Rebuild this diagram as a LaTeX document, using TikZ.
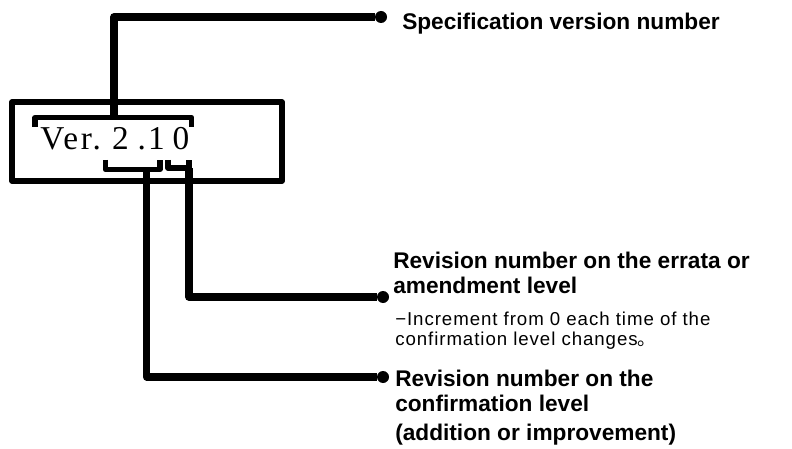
\documentclass[tikz,border=0pt]{standalone}
\usepackage{fontspec}
\setmainfont{Liberation Serif}
\newfontfamily\labelfont{Liberation Sans}
\newfontfamily\notefont[LetterSpace=5]{Liberation Sans}
\newfontfamily\verfont[LetterSpace=8]{Liberation Serif}
\newfontfamily\cjk{Noto Sans CJK JP}

\begin{document}
\begin{tikzpicture}[x=0.75pt,y=-0.75pt,
  wire/.style={line width=5.6pt,line join=round},
  brk/.style={line width=4pt,line join=round},
  dot/.style={circle,fill,inner sep=0pt,minimum size=9pt},
  head/.style={anchor=base west,inner sep=0pt,align=left,font=\labelfont\bfseries\fontsize{17}{18.75}\selectfont},
  note/.style={anchor=base west,inner sep=0pt,align=left,font=\notefont\fontsize{14}{15}\selectfont}]
  \useasboundingbox (0,0) rectangle (792,449);

  % version box
  \draw[line width=4.3pt,line join=round] (12,102) rectangle (282,181);
  \node[anchor=base west,inner sep=0pt,font=\verfont\fontsize{25}{25}\selectfont] (ver) at (40,150) {Ver.\hspace{8.25pt}2\hspace{6.75pt}.\hspace{1.5pt}1\hspace{6pt}0};

  % brackets
  \draw[brk] (35,127) |- (191.5,117.5) -- (191.5,127);
  \draw[brk] (105.5,160) |- (160,169.5) -- (160,160);
  \draw[brk] (168,160) |- (189,168) -- (189,160);

  \coordinate (top) at (114,117.5);
  \coordinate (conf) at (146.7,169.5);
  \coordinate (err) at (189,168);

  \node[dot] (d1) at (381,17) {};
  \node[dot] (d2) at (383,297) {};
  \node[dot] (d3) at (383,377) {};

  \draw[wire] (top) |- (d1);
  \draw[wire] (err) |- (d2);
  \draw[wire] (conf) |- (d3);

  % labels (base = last line)
  \node[head] (spec) at (402,30) {Specification version number};
  \node[head] (errata) at (393,293) {Revision number on the errata or\\amendment level};
  \node[note] (incr) at (395,345) {−Increment from 0 each time of the\\confirmation level changes{\cjk 。}};
  \node[head] (confl) at (395,440) {Revision number on the\\confirmation level\\[3pt](addition or improvement)};
\end{tikzpicture}
\end{document}
